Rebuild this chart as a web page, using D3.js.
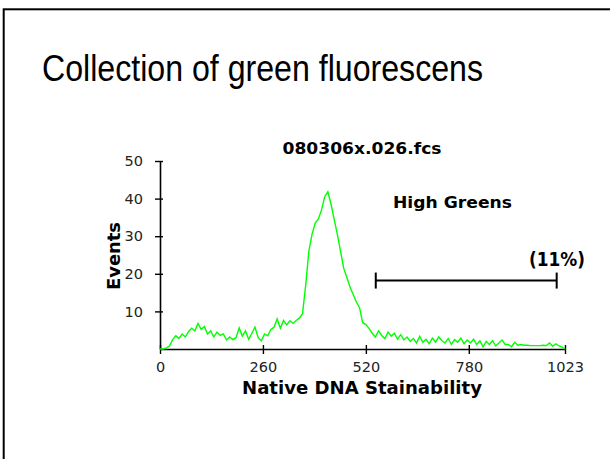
<!DOCTYPE html>
<html>
<head>
<meta charset="utf-8">
<script src="https://cdn.jsdelivr.net/npm/d3@7"></script>
<style>
  body { margin: 0; background: #fff; }
  svg { display: block; }
</style>
</head>
<body>
<svg id="chart"></svg>
<script>
// histogram channels, every 8th channel + last one
var channels = [];
for (var i = 0; i <= 127; i++) channels.push(i * 8);
channels.push(1023);

// events per channel
var events = [
  0, 0, 0.3, 0.8, 2.5, 3.5, 2.8, 4, 3.2, 4.6,
  5.5, 4.8, 6.8, 5.2, 6, 4, 4.8, 3.2, 4.5, 3.6,
  4, 2.4, 3.2, 2.5, 3, 5.6, 3.4, 4.8, 2.6, 4.2,
  5.8, 3, 2.2, 4, 3.5, 5.2, 5.8, 8, 5.5, 7.6,
  6.4, 7.5, 6.8, 7.6, 8.2, 9.4, 17, 26, 30.5, 33.5,
  34.6, 37, 40.5, 41.8, 38.5, 34.5, 30.5, 26, 21.5, 19,
  16.5, 14.5, 12.5, 11, 7, 6.5, 5.5, 4.2, 3.2, 4.8,
  3.6, 2.8, 4.5, 3.4, 4.2, 2.6, 3.8, 2.4, 3.2, 2,
  2.8, 1.6, 3.4, 1.8, 2.6, 1.4, 2.9, 1.8, 3.2, 2.2,
  1.6, 2.8, 1.2, 2.5, 1.8, 2.9, 1.4, 2.4, 1.6, 2.6,
  1.2, 2.2, 0.6, 2, 1.2, 2.2, 0.8, 1.6, 2.4, 1.2,
  1.2, 0.6, 1.8, 1, 1.2, 1, 1, 0.9, 0.9, 0.9,
  0.9, 1, 0.9, 1.6, 0.8, 1.4, 0.8, 0.5, 0
];

var xTicks = [0, 260, 520, 780, 1023];
var yTicks = [10, 20, 30, 40, 50];

// gate marker "High Greens"
var gate = [545, 1002];
var gateLevel = 18.2;
var gateName = "High Greens";
var gatePct = "(11%)";

var width = 610, height = 459;

var svg = d3.select("#chart")
    .attr("width", width)
    .attr("height", height);

// slide frame
svg.append("rect")
    .attr("x", 3.7).attr("y", 9.3)
    .attr("width", 700).attr("height", 600)
    .attr("fill", "none")
    .attr("stroke", "#000")
    .attr("stroke-width", 2);

svg.append("text")
    .attr("x", 42).attr("y", 81)
    .attr("font-family", "Liberation Sans, Arial, sans-serif")
    .attr("font-size", 36)
    .attr("textLength", 441)
    .attr("lengthAdjust", "spacingAndGlyphs")
    .attr("fill", "#000")
    .text("Collection of green fluorescens");

var x = d3.scaleLinear().domain([0, 1023]).range([160, 565]);
var y = d3.scaleLinear().domain([0, 50]).range([349, 161]);

var font = "DejaVu Sans, Verdana, sans-serif";

// x axis
var gx = svg.append("g")
    .attr("transform", "translate(0," + y(0) + ")")
    .call(d3.axisBottom(x).tickValues(xTicks).tickFormat(d3.format("d")).tickSizeOuter(0));
gx.select(".domain").attr("stroke", "#000").attr("stroke-width", 1.6);
gx.selectAll(".tick line").attr("y1", -4).attr("y2", 5)
    .attr("stroke", "#000").attr("stroke-width", 1.4);
gx.selectAll(".tick text")
    .attr("y", 23).attr("dy", null)
    .attr("font-family", font).attr("font-size", 14.5)
    .attr("fill", "#222");

// y axis
var gy = svg.append("g")
    .attr("transform", "translate(" + x(0) + ",0)")
    .call(d3.axisLeft(y).tickValues(yTicks).tickSizeOuter(0));
gy.select(".domain").attr("stroke", "#000").attr("stroke-width", 1.6);
gy.selectAll(".tick line").attr("x1", 3).attr("x2", -5)
    .attr("stroke", "#000").attr("stroke-width", 1.4);
gy.selectAll(".tick text")
    .attr("x", -17)
    .attr("font-family", font).attr("font-size", 14.5)
    .attr("fill", "#222");

// the histogram
var line = d3.line()
    .x(function(d, i){ return x(channels[i]); })
    .y(function(d){ return y(d); });

svg.append("path")
    .datum(events)
    .attr("d", line)
    .attr("fill", "none")
    .attr("stroke", "#00ff00")
    .attr("stroke-width", 1.4);

// gate bar
var gg = svg.append("g").attr("stroke", "#000").attr("stroke-width", 2);
gg.append("line")
    .attr("x1", x(gate[0])).attr("x2", x(gate[1]))
    .attr("y1", y(gateLevel)).attr("y2", y(gateLevel));
gate.forEach(function(g){
    gg.append("line")
        .attr("x1", x(g)).attr("x2", x(g))
        .attr("y1", y(gateLevel) - 8).attr("y2", y(gateLevel) + 8);
});

svg.append("text")
    .attr("x", 393).attr("y", 208)
    .attr("font-family", font).attr("font-weight", "bold")
    .attr("font-size", 16)
    .attr("textLength", 119).attr("lengthAdjust", "spacingAndGlyphs")
    .text(gateName);

svg.append("text")
    .attr("x", 529).attr("y", 266)
    .attr("font-family", font).attr("font-weight", "bold")
    .attr("font-size", 19)
    .attr("textLength", 56).attr("lengthAdjust", "spacingAndGlyphs")
    .text(gatePct);

// chart title and axis titles
svg.append("text")
    .attr("x", 362).attr("y", 154)
    .attr("text-anchor", "middle")
    .attr("font-family", font).attr("font-weight", "bold")
    .attr("font-size", 16)
    .attr("textLength", 159).attr("lengthAdjust", "spacingAndGlyphs")
    .text("080306x.026.fcs");

svg.append("text")
    .attr("x", 362).attr("y", 394)
    .attr("text-anchor", "middle")
    .attr("font-family", font).attr("font-weight", "bold")
    .attr("font-size", 18)
    .attr("textLength", 240).attr("lengthAdjust", "spacingAndGlyphs")
    .text("Native DNA Stainability");

svg.append("text")
    .attr("transform", "translate(120,256) rotate(-90)")
    .attr("text-anchor", "middle")
    .attr("font-family", font).attr("font-weight", "bold")
    .attr("font-size", 18)
    .attr("textLength", 68).attr("lengthAdjust", "spacingAndGlyphs")
    .text("Events");
</script>
</body>
</html>
